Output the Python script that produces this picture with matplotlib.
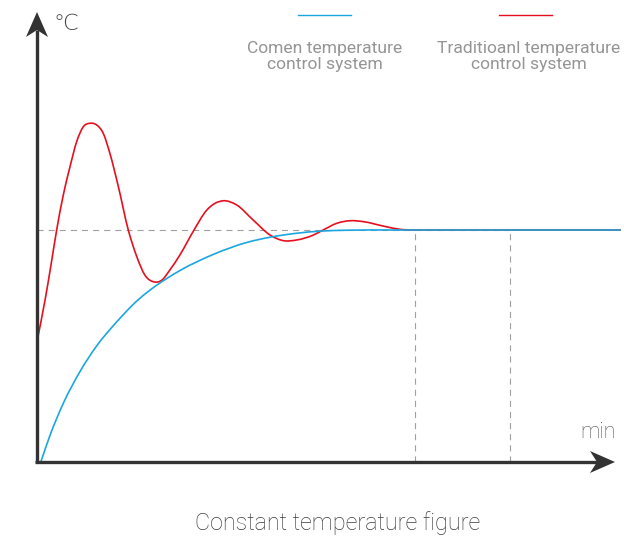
import numpy as np
import matplotlib
matplotlib.use("Agg")
import matplotlib.pyplot as plt
from matplotlib.path import Path
from matplotlib.patches import PathPatch, Polygon
from matplotlib.lines import Line2D
import matplotlib.transforms as mtransforms

# ---------------- data ----------------
setpoint = 100
marker_times = [80, 100]

red_t = [0.0, 1.7, 2.9, 4.16, 5.56, 6.98, 8.39, 9.79, 11.2, 12.6, 14.0, 15.4, 17.2,
         19.3, 21.1, 22.8, 24.6, 26.4, 28.1, 30.2, 33.0, 35.9, 39.4, 42.2, 45.7,
         49.3, 52.1, 54.9, 58.4, 60.5, 63.4, 66.2, 69.0, 73.2, 76.7, 80.0, 100.0, 123.3]
red_y = [51.9, 69.8, 84.2, 100.0, 115.1, 127.3, 138.1, 144.5, 146.0, 145.3, 141.7, 133.1, 118.7,
         100.0, 88.5, 80.6, 77.7, 78.4, 82.8, 89.2, 99.3, 108.6, 112.6, 110.8, 104.3,
         97.8, 95.4, 95.7, 97.8, 100.0, 102.9, 104.0, 103.6, 101.7, 100.3, 100.0, 100.0, 100.0]

blue_t = [0.8, 2.75, 5.56, 9.09, 12.6, 16.9, 21.1, 23.9, 30.2, 37.3, 44.3, 49.3, 54.9,
          59.8, 65.5, 75.0, 100.0, 123.3]
blue_y = [0.0, 11.5, 25.3, 39.0, 50.0, 60.5, 69.4, 74.1, 82.5, 89.5, 94.6, 96.9, 98.6,
          99.5, 99.9, 100.0, 100.0, 100.0]

legend_labels = [("Comen temperature", "control system"),
                 ("Traditioanl temperature", "control system")]
x_label = "min"
y_label = "\u2103"
title = "Constant temperature figure"

BLUE = "#1ca6df"
RED = "#e60f1f"
AXIS = "#333333"
GRID = "#a0a0a0"
TXT = "#959595"

W, H = 624, 539
fig = plt.figure(figsize=(W / 100, H / 100), dpi=100)
ax = fig.add_axes([0, 0, 1, 1])
ax.set_axis_off()

# pixel mapping: origin at (37,462); 4.73 px per min unit, 2.32 px per degree unit
x0, y0, sx, sy = 37, 462, 4.73, 2.32
ax.set_xlim((0 - x0) / sx, (W - x0) / sx)
ax.set_ylim((y0 - H) / sy, y0 / sy)

fonts = ["Roboto", "DejaVu Sans"]


def px(x, y):
    return (x / W, 1 - y / H)


def smooth_path(xs, ys):
    """Cubic Hermite curve y(x) through the points, drawn as Bezier segments."""
    x = np.asarray(xs, float)
    y = np.asarray(ys, float)
    n = len(x)
    h = np.diff(x)
    d = np.diff(y) / h
    m = np.zeros(n)
    m[0] = d[0]
    m[-1] = d[-1]
    for i in range(1, n - 1):
        if d[i - 1] * d[i] <= 0 and (abs(d[i - 1]) < 1e-9 or abs(d[i]) < 1e-9):
            m[i] = 0.0
        else:
            m[i] = (d[i - 1] * h[i] + d[i] * h[i - 1]) / (h[i - 1] + h[i])
    verts = [(x[0], y[0])]
    codes = [Path.MOVETO]
    for i in range(n - 1):
        hh = h[i] / 3.0
        verts += [(x[i] + hh, y[i] + m[i] * hh),
                  (x[i + 1] - hh, y[i + 1] - m[i + 1] * hh),
                  (x[i + 1], y[i + 1])]
        codes += [Path.CURVE4] * 3
    return Path(verts, codes)


# dashed reference lines
dash = dict(color=GRID, lw=0.8, dashes=(5.5, 4.5))
ax.plot([0, marker_times[-1]], [setpoint, setpoint], **dash, zorder=1)
for t in marker_times:
    ax.plot([t, t], [0, setpoint], **dash, zorder=1)

# curves
ax.add_patch(PathPatch(smooth_path(red_t, red_y), fill=False, ec=RED, lw=1.2, zorder=3,
                       capstyle="round", joinstyle="round"))
ax.add_patch(PathPatch(smooth_path(blue_t, blue_y), fill=False, ec=BLUE, lw=1.2, zorder=4,
                       capstyle="round", joinstyle="round"))

# axes with arrows
x_tip = (615 - x0) / sx
y_tip = (y0 - 12) / sy
ax.plot([0, 0], [0, y_tip - 18 / sy], color=AXIS, lw=2.4, solid_capstyle="butt", zorder=5)
ax.plot([-1.6 / sx, x_tip - 18 / sx], [0, 0], color=AXIS, lw=2.4, solid_capstyle="butt", zorder=5)

pt = fig.dpi_scale_trans  # inches


def head(tip, shape):
    tr = pt + mtransforms.ScaledTranslation(tip[0], tip[1], ax.transData)
    verts = [(a / 100, b / 100) for a, b in shape]
    ax.add_patch(Polygon(verts, closed=True, fc=AXIS, ec="none", transform=tr, zorder=6))


head((0, y_tip), [(0, 0), (-11, -25), (0, -18), (11, -25)])
head((x_tip, 0), [(0, 0), (-25, 11), (-18, 0), (-25, -11)])

# axis labels
fig.text(*px(53, 24), y_label, fontsize=16, color="#444444", family=["DejaVu Sans"],
         fontweight="light", ha="left", va="center")
fig.text(*px(598, 433), x_label, fontsize=15.5, color="#555555", family=fonts,
         fontweight="light", ha="center", va="center")

# legend
for (l1, l2), col, cx, x1, x2 in [(legend_labels[0], BLUE, 325, 298, 351),
                                   (legend_labels[1], RED, 529, 499, 552)]:
    fig.add_artist(Line2D([x1 / W, x2 / W], [1 - 15 / H, 1 - 15 / H], color=col, lw=1.0,
                          transform=fig.transFigure))
    fig.text(*px(cx, 53), l1, fontsize=12.6, color=TXT, family=fonts,
             ha="center", va="baseline")
    fig.text(*px(cx, 69), l2, fontsize=12.6, color=TXT, family=fonts,
             ha="center", va="baseline")

# title
fig.text(*px(338, 530), title, fontsize=16.8, color="#3c3c3c", family=fonts,
         fontweight="light", ha="center", va="baseline")

fig.savefig("out.png", dpi=100)
